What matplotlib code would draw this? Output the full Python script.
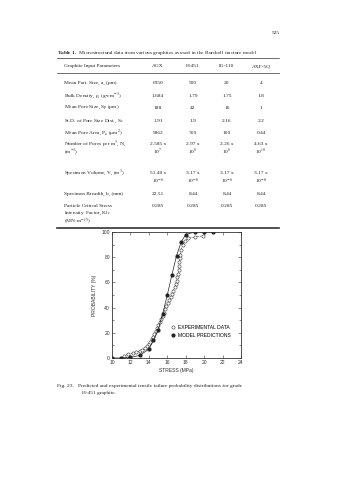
import numpy as np
import matplotlib
matplotlib.use("Agg")
import matplotlib.pyplot as plt
from matplotlib.lines import Line2D

plt.rcParams['mathtext.fontset'] = 'stix'

W, H = 337, 480

# Table 1 contents
grades = ["AGX", "H-451", "IG-110", "AXF-5Q"]
params = [
    ["Mean Part. Size, a, (μm)"],
    ["Bulk Density, ρ, (g•cm$^{-3}$)"],
    ["Mean Pore Size, S$_{\\mathrm{p}}$ (μm)"],
    ["St.D. of Pore Size Dist., S$_{\\mathrm{s}}$"],
    ["Mean Pore Area, P$_{\\mathrm{a}}$ (μm$^{2}$)"],
    ["Number of Pores per m$^{3}$, N,", "(m$^{-3}$)"],
    ["Specimen Volume, V, (m$^{3}$)"],
    ["Specimen Breadth, b, (mm)"],
    ["Particle Critical Stress", "Intensity  Factor, K$_{\\mathrm{Ic}}$", "(MN·m$^{-1.5}$)"],
]
agx_vals = ["6350", "1.684", "188", "1.91", "9862", ["2.585 x", "10$^{7}$"],
            ["51.48 x", "10$^{-6}$"], "22.51", "0.285"]
h451_vals = ["500", "1.79", "42", "1.9", "700", ["2.97 x", "10$^{8}$"],
             ["3.17 x", "10$^{-6}$"], "8.44", "0.285"]
ig110_vals = ["20", "1.75", "16", "2.16", "100", ["2.26 x", "10$^{8}$"],
              ["3.17 x", "10$^{-6}$"], "8.44", "0.285"]
axf5q_vals = ["4", "1.8", "1", "2.2", "0.44", ["4.63 x", "10$^{10}$"],
              ["3.17 x", "10$^{-6}$"], "8.44", "0.285"]

# Fig. 23 data, H-451 tensile failure probability
model_stress = [10, 11, 12, 13, 14, 14.5, 15, 15.5, 16, 16.5, 17, 17.5, 18, 19, 20, 21]
model_prob = [0, 0, 0.5, 2, 7, 14, 22, 35, 50, 66, 81, 92, 98, 100, 100, 100]

exp_stress = [11.3, 11.7, 12.3, 12.6, 13.0, 13.3, 13.6, 13.8, 14.0, 14.1, 14.3, 14.4,
              14.6, 14.8, 14.9, 15.0, 15.2, 15.3, 15.5, 15.6, 15.8, 15.9, 16.1, 16.2,
              16.4, 16.5, 16.6, 16.8, 16.9, 17.0, 17.1, 17.2, 17.25, 17.3, 17.3, 17.35,
              17.4, 17.5, 17.7, 17.9, 18.3, 19.0, 19.9]
exp_prob = [1.5, 3, 4, 4.5, 5.5, 6.5, 8, 9.5, 11, 13, 15, 17, 19, 21.5, 24, 26,
            28.5, 31, 33.5, 36, 38.5, 41, 43.5, 46, 48.5, 51, 53.5, 56, 58.5, 61,
            64, 67, 70, 73, 76, 79, 82, 86, 90, 93, 95, 96, 97]


def fx(x):
    return x / W


def fy(y):
    return 1 - y / H


fig = plt.figure(figsize=(W / 100, H / 100), dpi=100)
serif = dict(family="Liberation Serif", fontsize=3.9, color="#222222")

fig.text(fx(280), fy(33), "525", ha="right", va="center", **serif)

fig.text(fx(57), fy(53), r"$\mathbf{Table\ 1.}$  Microstructural data from various graphites as used in the Burchell fracture model",
         ha="left", va="center", **serif)

# table rules
for y, lw in [(58, 0.5), (73, 0.5), (228, 1.2)]:
    fig.add_artist(Line2D([fx(57), fx(279)], [fy(y), fy(y)], lw=lw, color="#333333"))

col_x = [158, 193, 227, 261]
fig.text(fx(64), fy(66), "Graphite Input Parameters", ha="left", va="center", **serif)
for cx, g in zip(col_x, grades):
    fig.text(fx(cx), fy(66), g, ha="center", va="center", **serif)

row_y = [83, 96, 108, 121, 133, 144, 173, 194, 206]
columns = [agx_vals, h451_vals, ig110_vals, axf5q_vals]
for i, ry in enumerate(row_y):
    for j, line in enumerate(params[i]):
        fig.text(fx(64), fy(ry + 8.5 * j if i == 5 else ry + 7.5 * j), line,
                 ha="left", va="center", **serif)
    for cx, vals in zip(col_x, columns):
        v = vals[i]
        lines = v if isinstance(v, list) else [v]
        for j, line in enumerate(lines):
            fig.text(fx(cx), fy(ry + 8.5 * j), line, ha="center", va="center", **serif)

# probability plot
ax = fig.add_axes([fx(112), fy(358), fx(241) - fx(112), fy(232) - fy(358)])
ax.plot(exp_stress, exp_prob, ls=(0, (2.5, 1.5)), lw=0.45, color="#333333",
        marker="o", ms=2.3, mfc="white", mec="#333333", mew=0.4)
ax.plot(model_stress, model_prob, ls="-", lw=0.5, color="#222222",
        marker="o", ms=2.0, mfc="#222222", mec="#222222")

ax.set_xlim(10, 24)
ax.set_ylim(0, 100)
ax.set_xticks(np.arange(10, 25, 2))
ax.set_yticks(np.arange(0, 101, 20))
ax.set_yticks(np.arange(0, 101, 10), minor=True)
ax.tick_params(which="both", direction="in", top=True, right=True,
               labelsize=3.6, width=0.4, colors="#333333", pad=1.5)
ax.tick_params(which="major", length=2.5)
ax.tick_params(which="minor", length=1.5)
for lbl in ax.get_xticklabels() + ax.get_yticklabels():
    lbl.set_family("Liberation Sans")
for s in ax.spines.values():
    s.set_linewidth(0.6)
    s.set_color("#333333")

ax.set_xlabel("STRESS (MPa)", family="Liberation Sans", fontsize=3.6, labelpad=2, color="#333333")
ax.set_ylabel("PROBABILITY (%)", family="Liberation Sans", fontsize=3.6, labelpad=3, color="#333333")

handles = [
    Line2D([], [], ls="none", marker="o", ms=2.3, mfc="white", mec="#333333", mew=0.4),
    Line2D([], [], ls="none", marker="o", ms=2.0, mfc="#222222", mec="#222222"),
]
ax.legend(handles, ["EXPERIMENTAL DATA", "MODEL PREDICTIONS"], loc="upper left",
          bbox_to_anchor=(0.44, 0.28), frameon=False, handlelength=0.8,
          handletextpad=0.6, labelspacing=0.5, borderpad=0,
          prop={"family": "Liberation Sans", "size": 3.6})

fig.text(fx(57), fy(386), "Fig. 23.   Predicted and experimental tensile failure probability distributions for grade",
         ha="left", va="center", **serif)
fig.text(fx(82), fy(393), "H-451 graphite.", ha="left", va="center", **serif)

fig.savefig("out.png", dpi=100, facecolor="white")
